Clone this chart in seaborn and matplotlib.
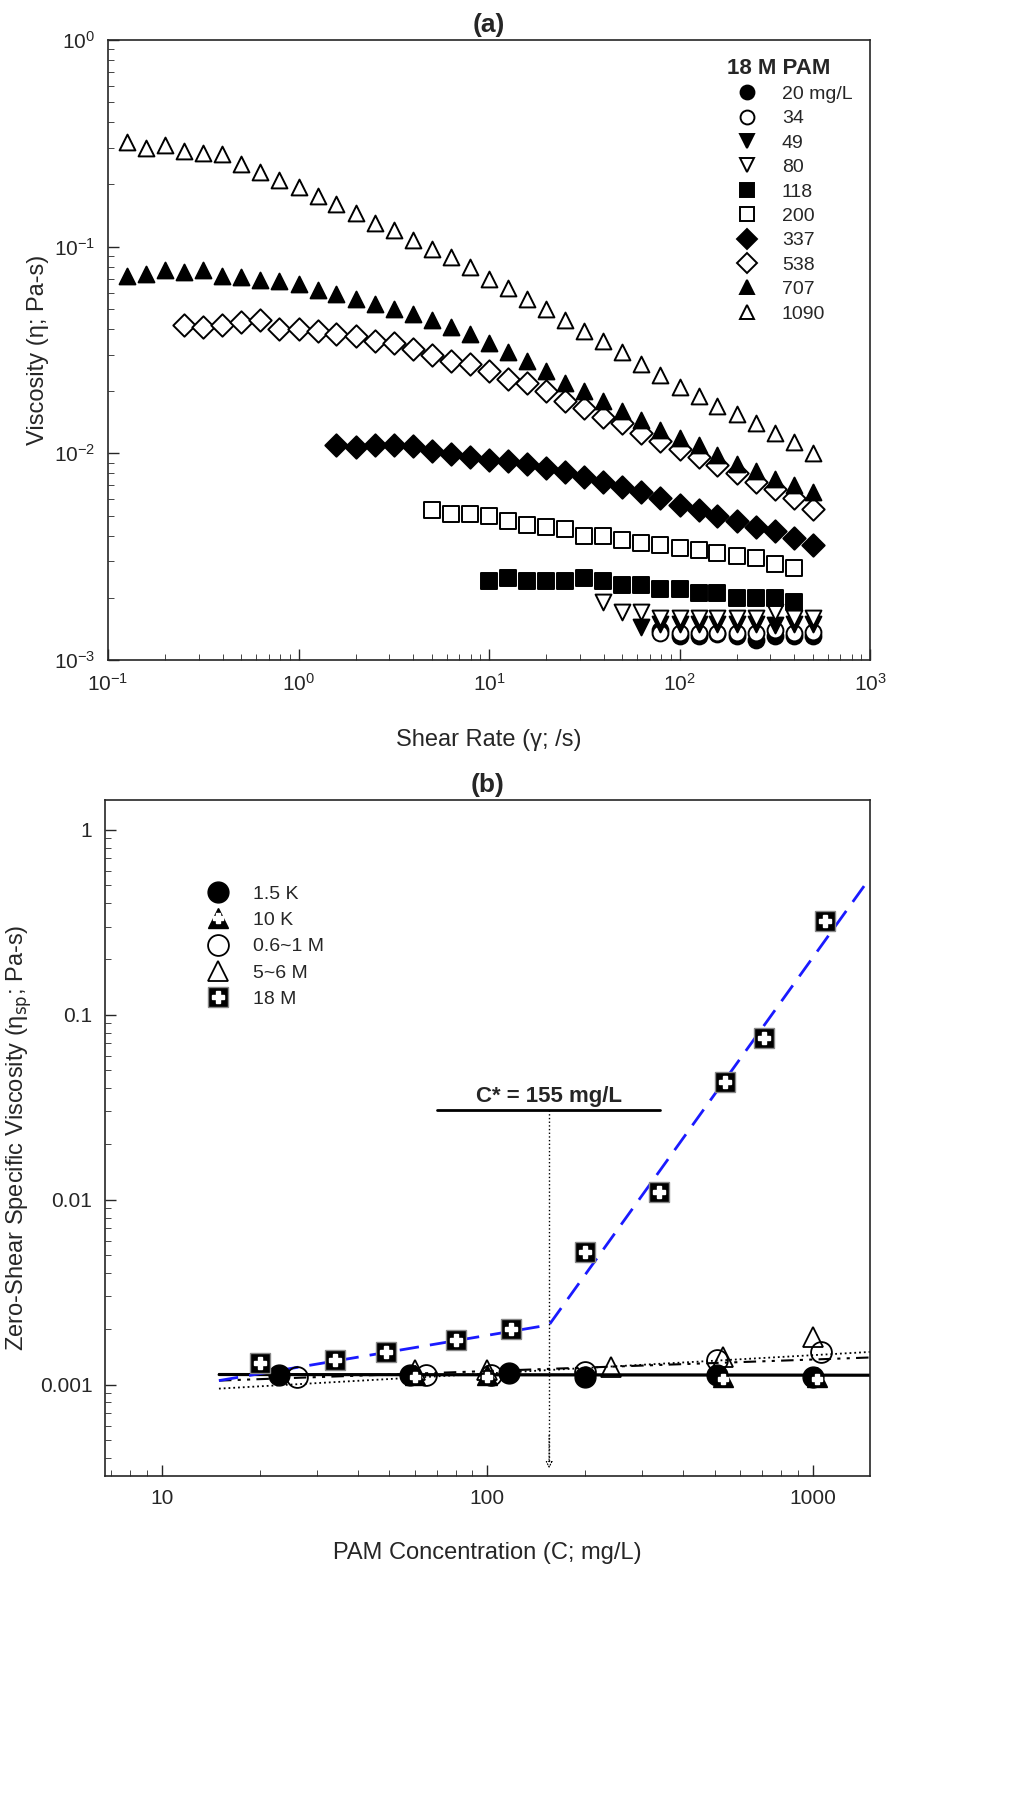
import numpy as np
import pandas as pd
import matplotlib
matplotlib.use("Agg")
import matplotlib.pyplot as plt
import seaborn as sns

sns.set_style("ticks")
plt.rcParams["font.family"] = "Liberation Sans"

# ---- panel (a) data: shear rate grid (1/s) and viscosity (Pa-s)
shear = [0.126, 0.158, 0.2, 0.251, 0.316, 0.398, 0.501, 0.631, 0.794, 1.0,
         1.26, 1.58, 2.0, 2.51, 3.16, 3.98, 5.01, 6.31, 7.94, 10.0,
         12.6, 15.8, 20.0, 25.1, 31.6, 39.8, 50.1, 63.1, 79.4, 100.0,
         126, 158, 200, 251, 316, 398, 501]

v1090 = [0.32, 0.30, 0.31, 0.29, 0.285, 0.28, 0.25, 0.23, 0.21, 0.195, 0.175, 0.16, 0.145,
         0.13, 0.12, 0.108, 0.097, 0.089, 0.08, 0.07, 0.063, 0.056, 0.05, 0.044, 0.039, 0.035,
         0.031, 0.027, 0.024, 0.021, 0.019, 0.017, 0.0155, 0.014, 0.0125, 0.0113, 0.010]
v707 = [0.072, 0.074, 0.077, 0.075, 0.077, 0.072, 0.071, 0.069, 0.068, 0.066, 0.062, 0.059, 0.056,
        0.053, 0.050, 0.047, 0.044, 0.041, 0.038, 0.034, 0.031, 0.028, 0.025, 0.022, 0.020, 0.018,
        0.016, 0.0145, 0.013, 0.0118, 0.011, 0.0098, 0.0089, 0.0082, 0.0075, 0.0070, 0.0065]
v538 = [0.042, 0.041, 0.042, 0.043, 0.044, 0.040, 0.040, 0.039, 0.038, 0.037, 0.035, 0.034, 0.032,
        0.030, 0.028, 0.027, 0.025, 0.023, 0.022, 0.020, 0.018, 0.0165, 0.015, 0.014, 0.0125,
        0.0115, 0.0105, 0.0096, 0.0088, 0.0080, 0.0073, 0.0067, 0.0061, 0.0054]
v337 = [0.011, 0.0107, 0.011, 0.011, 0.0108, 0.0103, 0.0099, 0.0096, 0.0093, 0.0092, 0.0089,
        0.0085, 0.0081, 0.0077, 0.0073, 0.0069, 0.0065, 0.0061, 0.0056, 0.0053, 0.0050, 0.0047,
        0.0044, 0.0042, 0.0039, 0.0036]
v200 = [0.0053, 0.0051, 0.0051, 0.0050, 0.0047, 0.0045, 0.0044, 0.0043, 0.0040, 0.0040, 0.0038,
        0.0037, 0.0036, 0.0035, 0.0034, 0.0033, 0.0032, 0.0031, 0.0029, 0.0028]
v118 = [0.0024, 0.0025, 0.0024, 0.0024, 0.0024, 0.0025, 0.0024, 0.0023, 0.0023, 0.0022, 0.0022,
        0.0021, 0.0021, 0.0020, 0.0020, 0.0020, 0.0019]
v80 = [0.0019, 0.0017, 0.0017, 0.0016, 0.0016, 0.0016, 0.0016, 0.0016, 0.0016, 0.0017, 0.0016, 0.0016]
v49 = [0.00145, 0.0015, 0.0015, 0.0015, 0.0015, 0.0015, 0.0015, 0.00148, 0.0015, 0.0015]
v34 = [0.00135, 0.00135, 0.00135, 0.00135, 0.00135, 0.00135, 0.0014, 0.00135, 0.00137]
v20 = [0.0014, 0.0013, 0.0013, 0.00133, 0.0013, 0.00125, 0.0013, 0.0013, 0.0013]

# label, values, start shear index, marker, filled
series_a = [("20 mg/L", v20, 28, "o", True), ("34", v34, 28, "o", False),
            ("49", v49, 27, "v", True), ("80", v80, 25, "v", False),
            ("118", v118, 19, "s", True), ("200", v200, 16, "s", False),
            ("337", v337, 11, "D", True), ("538", v538, 3, "D", False),
            ("707", v707, 0, "^", True), ("1090", v1090, 0, "^", False)]

# ---- panel (b) data
c18 = [20, 34, 49, 80, 118, 200, 337, 538, 707, 1090]
e18 = [0.0013, 0.00135, 0.0015, 0.00175, 0.002, 0.0052, 0.011, 0.043, 0.075, 0.32]
c15k = [23, 58, 117, 200, 510, 1000]
e15k = [0.00113, 0.00113, 0.00115, 0.0011, 0.00113, 0.0011]
c10k = [60, 100, 530, 1030]
e10k = [0.00113, 0.00113, 0.0011, 0.0011]
c1m = [26, 65, 103, 200, 510, 1060]
e1m = [0.0011, 0.00112, 0.00113, 0.00117, 0.00135, 0.0015]
c6m = [60, 100, 240, 530, 1000]
e6m = [0.0012, 0.0012, 0.00125, 0.0014, 0.0018]
fit18_x = [15, 155, 1500]
fit18_y = [0.00105, 0.0021, 0.55]
flat_x = [15, 1500]
flat_y = [0.00113, 0.00112]
dd_y = [0.00105, 0.0014]
dot_y = [0.00095, 0.0015]
c_star = 155

fig = plt.figure(figsize=(10.24, 18.14), dpi=100)
W, H = 1024, 1814
axa = fig.add_axes([108 / W, 1 - 660 / H, (870 - 108) / W, (660 - 40) / H])
axb = fig.add_axes([105 / W, 1 - 1476 / H, (870 - 105) / W, (1476 - 800) / H])

handles = []
for label, vals, start, m, filled in series_a:
    df = pd.DataFrame({"x": shear[start:start + len(vals)], "y": vals})
    sns.scatterplot(data=df, x="x", y="y", ax=axa, marker=m, s=130,
                    facecolor="black" if filled else "white", edgecolor="black",
                    linewidth=1.4, zorder=3)
    handles.append(plt.Line2D([], [], ls="", marker=m, ms=10,
                              mfc="black" if filled else "white", mec="black", mew=1.4))
axa.set_xscale("log")
axa.set_yscale("log")
axa.set_xlim(0.1, 1000)
axa.set_ylim(1e-3, 1)
axa.set_xlabel("Shear Rate (\u03b3; /s)", fontsize=17, labelpad=25)
axa.set_ylabel("Viscosity (\u03b7; Pa-s)", fontsize=17)
axa.set_title("(a)", fontsize=19, fontweight="bold", pad=6)
leg = axa.legend(handles, [s[0] for s in series_a], title="18 M PAM", loc="upper right",
                 frameon=False, fontsize=14, handletextpad=0.8, labelspacing=0.35)
leg.get_title().set_fontweight("bold")
leg.get_title().set_fontsize(16)
leg._legend_box.align = "left"

# panel (b)
axb.plot(flat_x, flat_y, color="black", lw=2, zorder=2)
axb.plot(flat_x, [0.00114, 0.00113], color="black", lw=1.5, zorder=2)
axb.plot(flat_x, dd_y, color="black", lw=1.5, dashes=[6, 3, 1.5, 3, 1.5, 3], zorder=2)
axb.plot(flat_x, dot_y, color="black", lw=1.3, ls=":", zorder=2)
axb.plot(fit18_x, fit18_y, color="#1a1aff", lw=2, dashes=[7, 4], zorder=2)
axb.plot([c_star, c_star], [0.0305, 0.00036], color="black", lw=1, ls=":")
axb.annotate("", xy=(c_star, 0.00034), xytext=(c_star, 0.00055),
             arrowprops=dict(arrowstyle="-|>", ls=":", color="black", fc="white", lw=0.8))
axb.text(c_star, 0.0315, "C* = 155 mg/L", fontsize=16, fontweight="bold", ha="center", va="bottom")
axb.plot([70, 340], [0.0305, 0.0305], color="black", lw=2)

ms = 15
h15 = axb.plot(c15k, e15k, ls="", marker="o", ms=ms, mfc="black", mec="black", zorder=4)[0]
h10a = axb.plot(c10k, e10k, ls="", marker="^", ms=ms, mfc="black", mec="black", zorder=4)[0]
h10b = axb.plot(c10k, [e * 0.97 for e in e10k], ls="", marker="P", ms=7, mfc="white",
                mec="white", zorder=5)[0]
h1m = axb.plot(c1m, e1m, ls="", marker="o", ms=ms, mfc="none", mec="black", mew=1.3, zorder=4)[0]
h6m = axb.plot(c6m, e6m, ls="", marker="^", ms=ms, mfc="none", mec="black", mew=1.3, zorder=4)[0]
h18a = axb.plot(c18, e18, ls="", marker="s", ms=ms, mfc="black", mec="#888888", zorder=4)[0]
h18b = axb.plot(c18, e18, ls="", marker="P", ms=8, mfc="white", mec="white", zorder=5)[0]

axb.set_xscale("log")
axb.set_yscale("log")
axb.set_xlim(6.7, 1500)
axb.set_ylim(3.2e-4, 1.45)
axb.set_yticks([0.001, 0.01, 0.1, 1])
axb.set_yticklabels(["0.001", "0.01", "0.1", "1"])
axb.set_xticks([10, 100, 1000])
axb.set_xticklabels(["10", "100", "1000"])
axb.set_xlabel("PAM Concentration (C; mg/L)", fontsize=17, labelpad=25)
axb.set_ylabel("Zero-Shear Specific Viscosity (\u03b7$_{\\rm sp}$; Pa-s)", fontsize=17)
axb.set_title("(b)", fontsize=19, fontweight="bold", pad=6)
axb.legend([h15, (h10a, h10b), h1m, h6m, (h18a, h18b)],
           ["1.5 K", "10 K", "0.6~1 M", "5~6 M", "18 M"], loc="upper left",
           bbox_to_anchor=(0.1, 0.9), frameon=False, fontsize=14, labelspacing=0.45)

for ax in (axa, axb):
    ax.tick_params(which="major", direction="in", length=8, labelsize=15, width=1, pad=9)
    ax.tick_params(which="minor", direction="in", length=4)
    for sp in ax.spines.values():
        sp.set_linewidth(1.2)

fig.savefig("out.png", dpi=100)
